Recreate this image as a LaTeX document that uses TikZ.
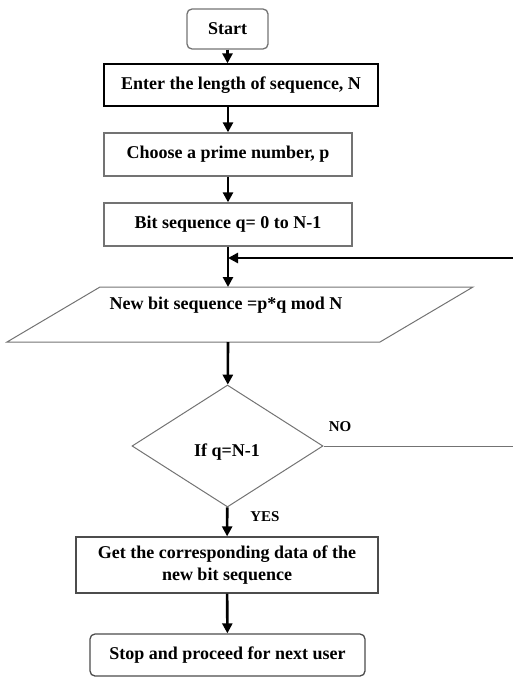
\documentclass[tikz,border=0pt]{standalone}
\usepackage{fontspec}
\setmainfont{Liberation Serif}
\usetikzlibrary{arrows.meta,shapes.geometric}

\begin{document}
\begin{tikzpicture}[x=1pt, y=-1pt, every node/.style={font=\fontsize{18}{22}\selectfont\bfseries, inner sep=0pt},
	>={Triangle[length=10pt, width=10pt]},
	box/.style={draw=black!55, line width=1.3pt, align=center},
	term/.style={box, rounded corners=5pt},
	flow/.style={->, line width=2.6pt},
	thinline/.style={draw=black!55, line width=1pt},
	answer/.style={font=\fontsize{15}{18}\selectfont\bfseries}]
	\useasboundingbox (0,0) rectangle (512,677);
	\node[term, minimum width=81pt, minimum height=40pt] (start) at (227.5,29) {Start};
	\node[box, draw=black, minimum width=274pt, minimum height=42pt] (length) at (241,85) {Enter the length of sequence, N};
	\node[box, minimum width=248pt, minimum height=43pt] (prime) at (228,154.5) {Choose a prime number, p};
	\node[box, minimum width=248pt, minimum height=43pt] (bits) at (228,224.5) {Bit sequence q= 0 to N-1};
	\draw[thinline] (100,287) coordinate (paratop) -- (473,287) -- (380,342) -- (7,342) coordinate (parabottom) -- cycle;
	\node (newseq) at (226,305) {New bit sequence =p*q mod N};
	\node[thinline, diamond, minimum width=191pt, minimum height=122pt] (cond) at (227.5,446) {};
	\node (condtext) at (227,452) {If q=N-1};
	\node[box, draw=black!70, minimum width=302pt, minimum height=56pt] (getdata) at (227,565) {Get the corresponding data of the\\new bit sequence};
	\node[term, draw=black!70, minimum width=275pt, minimum height=42pt] (stop) at (227.5,655) {Stop and proceed for next user};
	\node[answer] (no) at (340,427) {NO};
	\node[answer] (yes) at (265,517) {YES};
	\coordinate (loopend) at (514,258);
	\draw[flow] (start) -- (start |- length.north);
	\draw[flow] (length.south -| prime) -- (prime);
	\draw[flow] (prime) -- (bits);
	\draw[flow] (bits) -- (bits |- paratop);
	\draw[flow] (bits |- parabottom) -- (cond);
	\draw[flow] (cond) -- (getdata);
	\draw[flow] (getdata) -- (stop);
	\draw[thinline] (cond.east) -| (loopend);
	\draw[flow] (loopend) -- (bits |- loopend);
\end{tikzpicture}
\end{document}
